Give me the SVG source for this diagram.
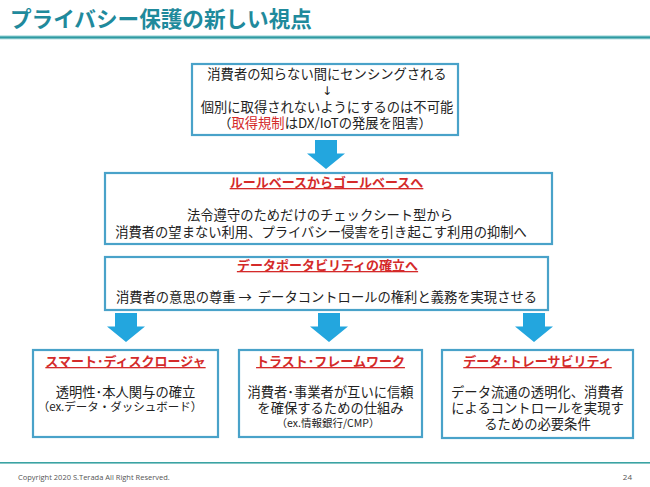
<svg xmlns="http://www.w3.org/2000/svg" width="650" height="487" viewBox="0 0 650 487">
<defs>
<style>
text{font-family:"Noto Sans CJK JP","Noto Sans",sans-serif;fill:#222;}
.t{font-size:13.3px;text-anchor:middle;}
.h{font-size:13px;font-weight:bold;fill:#d42a2a;text-anchor:middle;text-decoration:underline;}
.box{fill:#fff;stroke:#49a2c9;stroke-width:2.2;}
.arr{fill:#23a6de;}
</style>
<path id="ar" d="M-11,0 H11 V13.5 H19 L0,29 L-19,13.5 H-11 Z"/>
<linearGradient id="ul" x1="0" y1="0" x2="0" y2="1">
<stop offset="0" stop-color="#8fcfd2"/>
<stop offset="0.5" stop-color="#2f9aa2"/>
<stop offset="1" stop-color="#b9e0e2"/>
</linearGradient>
</defs>
<rect width="650" height="487" fill="#fff"/>
<g id="title">
<text x="10" y="27" style="font-size:21.6px;font-weight:bold;fill:#1f8a9c;">プライバシー保護の新しい視点</text>
<rect x="0" y="35.5" width="650" height="4" fill="url(#ul)"/>
</g>
<g id="connectors">
<use href="#ar" class="arr" transform="translate(326,140)"/>
<use href="#ar" class="arr" transform="translate(126,313)"/>
<use href="#ar" class="arr" transform="translate(329,313)"/>
<use href="#ar" class="arr" transform="translate(534,313)"/>
</g>
<g id="box1">
<rect class="box" x="192" y="64" width="266" height="71"/>
<text class="t" x="327" y="79">消費者の知らない間にセンシングされる</text>
<text class="t" x="327" y="95" style="font-family:'DejaVu Sans',sans-serif;fill:#222;font-size:12px">↓</text>
<text class="t" x="327" y="112">個別に取得されないようにするのは不可能</text>
<text class="t" x="325" y="128">（<tspan style="fill:#d42a2a">取得規制</tspan>はDX/IoTの発展を阻害）</text>
</g>
<g id="box2">
<rect class="box" x="105" y="173" width="447" height="71"/>
<text class="h" x="326.5" y="187">ルールベースからゴールベースへ</text>
<text class="t" x="320" y="220">法令遵守のためだけのチェックシート型から</text>
<text class="t" x="321" y="237">消費者の望まない利用、プライバシー侵害を引き起こす利用の抑制へ</text>
</g>
<g id="box3">
<rect class="box" x="105" y="257" width="443" height="53"/>
<text class="h" x="327.5" y="270">データポータビリティの確立へ</text>
<text class="t" x="326.5" y="302" xml:space="preserve">消費者の意思の尊重 →  データコントロールの権利と義務を実現させる</text>
</g>
<g id="box4">
<rect class="box" x="33" y="350" width="185" height="87"/>
<text class="h" x="125.5" y="366">スマート･ディスクロージャ</text>
<text class="t" x="125.5" y="397">透明性･本人関与の確立</text>
<text class="t" x="120" y="411" style="font-size:11.5px">（ex.データ・ダッシュボード）</text>
</g>
<g id="box5">
<rect class="box" x="239" y="350" width="183" height="87"/>
<text class="h" x="330.5" y="366">トラスト･フレームワーク</text>
<text class="t" x="330.5" y="397">消費者･事業者が互いに信頼</text>
<text class="t" x="330.5" y="413">を確保するための仕組み</text>
<text class="t" x="328" y="427" style="font-size:10.5px">（ex.情報銀行/CMP）</text>
</g>
<g id="box6">
<rect class="box" x="442" y="350" width="191" height="88"/>
<text class="h" x="537.5" y="366">データ･トレーサビリティ</text>
<text class="t" x="537.5" y="397">データ流通の透明化、消費者</text>
<text class="t" x="537.5" y="413">によるコントロールを実現す</text>
<text class="t" x="537.5" y="429">るための必要条件</text>
</g>
<g id="footer">
<rect x="0" y="462" width="650" height="1.6" fill="#3aa3a3"/>
<text x="18" y="480" style="font-family:'Open Sans',sans-serif;font-size:7.5px;fill:#555;">Copyright 2020  S.Terada  All Right Reserved.</text>
<text x="632" y="480" style="font-family:'Open Sans',sans-serif;font-size:8px;fill:#555;text-anchor:end;">24</text>
</g>
</svg>
